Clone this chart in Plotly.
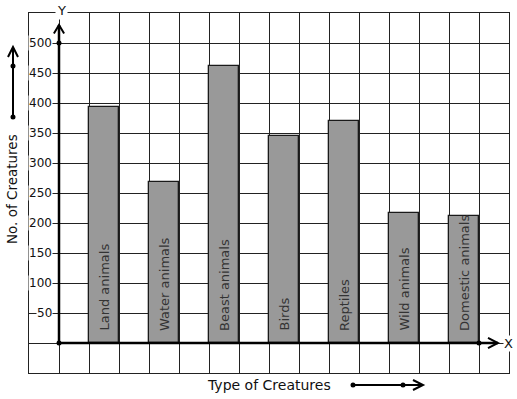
import plotly.graph_objects as go

categories = ["Land animals", "Water animals", "Beast animals", "Birds",
              "Reptiles", "Wild animals", "Domestic animals"]
values = [393, 268, 462, 345, 370, 216, 212]
x_pos = [1.5, 3.5, 5.5, 7.5, 9.5, 11.5, 13.5]
y_ticks = [50, 100, 150, 200, 250, 300, 350, 400, 450, 500]
y_tick_labels = ["50", "100", "150", "200", "250", "300", "350", "400", "450", "500"]

FONT = "DejaVu Sans"
W, H = 517, 399
L, R, T, B = 29, 8, 13, 26
PW, PH = W - L - R, H - T - B


def px(xp):
    return (xp - L) / PW


def py(yp):
    return (H - B - yp) / PH


fig = go.Figure()
fig.add_trace(go.Bar(
    x=x_pos, y=values, width=1,
    marker=dict(color="#999999", line=dict(color="#1a1a1a", width=1.3)),
    hoverinfo="skip", showlegend=False,
))

# dots on axes
fig.add_trace(go.Scatter(
    x=[0, 0, 14], y=[0, 500, 0], mode="markers",
    marker=dict(color="black", size=5), cliponaxis=False,
    hoverinfo="skip", showlegend=False,
))

shapes = []
# axes
shapes.append(dict(type="line", xref="x", yref="y", x0=0, y0=0, x1=0, y1=530,
                   line=dict(color="black", width=2.5), layer="above"))
shapes.append(dict(type="line", xref="x", yref="y", x0=0, y0=0, x1=14.63, y1=0,
                   line=dict(color="black", width=2.5), layer="above"))
# arrow heads on axes
shapes.append(dict(type="path", xref="x", yref="y",
                   path="M -0.17 516 L 0 530 L 0.17 516",
                   line=dict(color="black", width=2), layer="above"))
shapes.append(dict(type="path", xref="x", yref="y",
                   path="M 14.3 8.5 L 14.63 0 L 14.3 -8.5",
                   line=dict(color="black", width=2), layer="above"))

# left decorative arrow
shapes.append(dict(type="line", xref="paper", yref="paper",
                   x0=px(13), y0=py(117), x1=px(13), y1=py(47),
                   line=dict(color="black", width=2)))
shapes.append(dict(type="path", xref="paper", yref="paper",
                   path=f"M {px(8)} {py(57)} L {px(13)} {py(47)} L {px(18)} {py(57)}",
                   line=dict(color="black", width=2)))
# bottom decorative arrow
shapes.append(dict(type="line", xref="paper", yref="paper",
                   x0=px(353), y0=py(385), x1=px(423), y1=py(385),
                   line=dict(color="black", width=2)))
shapes.append(dict(type="path", xref="paper", yref="paper",
                   path=f"M {px(413)} {py(380)} L {px(423)} {py(385)} L {px(413)} {py(390)}",
                   line=dict(color="black", width=2)))
for (cx, cy) in [(13, 117), (13, 66), (353, 385), (403, 385)]:
    shapes.append(dict(type="circle", xref="paper", yref="paper",
                       x0=px(cx - 2.5), x1=px(cx + 2.5), y0=py(cy + 2.5), y1=py(cy - 2.5),
                       fillcolor="black", line=dict(color="black", width=0)))

annotations = []
for yv, lab in zip(y_ticks, y_tick_labels):
    annotations.append(dict(x=0, y=yv, xref="x", yref="y", text=lab, showarrow=False,
                            xanchor="right", yanchor="middle", xshift=-6,
                            bgcolor="white", borderpad=0,
                            font=dict(family=FONT, size=12, color="#111")))
for xc, cat in zip(x_pos, categories):
    annotations.append(dict(x=xc, y=0, xref="x", yref="y", text=cat, showarrow=False,
                            textangle=-90, xanchor="center", yanchor="bottom", yshift=10,
                            font=dict(family=FONT, size=13, color="#333")))
annotations.append(dict(x=0, y=py(10), xref="x", yref="paper", text="Y", showarrow=False,
                        xanchor="center", yanchor="middle", xshift=2, bgcolor="white", borderpad=1,
                        font=dict(family=FONT, size=13, color="#111")))
annotations.append(dict(x=px(508), y=0, xref="paper", yref="y", text="X", showarrow=False,
                        xanchor="center", yanchor="middle", bgcolor="white", borderpad=0,
                        font=dict(family=FONT, size=13, color="#111")))
annotations.append(dict(x=px(12), y=py(189), xref="paper", yref="paper", text="No. of Creatures",
                        showarrow=False, textangle=-90, xanchor="center", yanchor="middle",
                        font=dict(family=FONT, size=13.5, color="#111")))
annotations.append(dict(x=px(269), y=py(385), xref="paper", yref="paper", text="Type of Creatures",
                        showarrow=False, xanchor="center", yanchor="middle",
                        font=dict(family=FONT, size=14, color="#111")))

fig.update_layout(
    width=W, height=H,
    margin=dict(l=L, r=R, t=T, b=B),
    paper_bgcolor="white", plot_bgcolor="white",
    shapes=shapes, annotations=annotations,
    xaxis=dict(range=[-1, 15], dtick=1, tick0=0, showgrid=True, gridcolor="#222",
               gridwidth=1, showticklabels=False, ticks="", zeroline=False,
               showline=True, mirror=True, linecolor="#222", linewidth=1, fixedrange=True),
    yaxis=dict(range=[-50, 550], dtick=50, tick0=0, showgrid=True, gridcolor="#222",
               gridwidth=1, showticklabels=False, ticks="", zeroline=False,
               showline=True, mirror=True, linecolor="#222", linewidth=1, fixedrange=True),
    bargap=0,
    font=dict(family=FONT),
)

fig.write_html("out.html", config={"displayModeBar": False},
               post_script="document.body.style.margin='0';document.body.style.overflow='hidden';")
